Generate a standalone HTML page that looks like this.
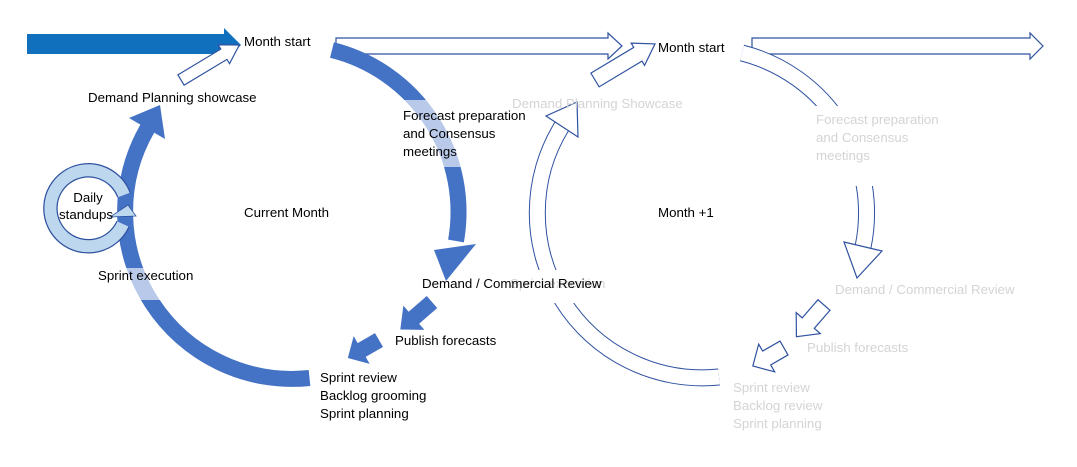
<!DOCTYPE html>
<html><head><meta charset="utf-8"><style>
html,body{margin:0;padding:0;background:#fff;}
svg{display:block;font-family:"Liberation Sans",sans-serif;font-size:13.3px;}
.g{fill:#d4d4d4}
</style></head><body>
<svg width="1077" height="467" viewBox="0 0 1077 467">
<polygon points="27,34 224,34 224,28 241,45 224,62 224,54 27,54" fill="#1170be"/>
<polygon points="336,38 608,38 608,33 622,46 608,59 608,54 336,54" fill="#fff" stroke="#2f52a0" stroke-width="1.2"/>
<polygon points="752,38 1030,38 1030,33 1043,46 1030,59 1030,54 752,54" fill="#fff" stroke="#2f52a0" stroke-width="1.2"/>

<path d="M332,50 A167,167 0 0 1 456,241" fill="none" stroke="#4472c4" stroke-width="16"/>
<polygon points="434,250 476,244 446,281" fill="#4472c4"/>
<path d="M309.5,378 A167,167 0 0 1 147.4,128.5" fill="none" stroke="#4472c4" stroke-width="16"/>
<polygon points="129,118 165,139 160,105" fill="#4472c4"/>
<rect x="398" y="100" width="75" height="67" fill="#fff" opacity="0.62"/>
<rect x="112" y="268" width="55" height="32" fill="#fff" opacity="0.62"/>

<path d="M124,195 A38,38 0 1 0 123,224" fill="none" stroke="#2f52a0" stroke-width="14.5"/>
<path d="M124,195 A38,38 0 1 0 123,224" fill="none" stroke="#bdd7ee" stroke-width="12"/>
<polygon points="110,217 136,216 128,205" fill="#bdd7ee" stroke="#2f52a0" stroke-width="0.8"/>

<g transform="translate(432,302) rotate(139)"><polygon points="0,-8 24,-8 24,-16 42,0 24,16 24,8 0,8" fill="#4472c4"/></g>
<g transform="translate(379,340) rotate(150)"><polygon points="0,-8 20,-8 20,-16 36,0 20,16 20,8 0,8" fill="#4472c4"/></g>

<g transform="translate(181,80) rotate(-31)"><polygon points="0,-6 50,-6 50,-11 68,0 50,11 50,6 0,6" fill="#fff" stroke="#2f52a0" stroke-width="1.2"/></g>
<g transform="translate(595,80) rotate(-31)"><polygon points="0,-8 50,-8 50,-13 70,0 50,13 50,8 0,8" fill="#fff" stroke="#2f52a0" stroke-width="1.2"/></g>

<path d="M742,53 A165,165 0 0 1 863,247" fill="none" stroke="#2f52a0" stroke-width="17"/>
<path d="M742,53 A165,165 0 0 1 863,247" fill="none" stroke="#fff" stroke-width="15"/>
<polygon points="844,242 882,251 857,278" fill="#fff" stroke="#2f52a0" stroke-width="1.2"/>
<path d="M719,377 A165,165 0 0 1 562,126" fill="none" stroke="#2f52a0" stroke-width="17"/>
<path d="M719,377 A165,165 0 0 1 562,126" fill="none" stroke="#fff" stroke-width="15"/>
<polygon points="546,116 578,137 577,102" fill="#fff" stroke="#2f52a0" stroke-width="1.2"/>
<rect x="800" y="106" width="85" height="80" fill="#fff"/>
<rect x="528" y="270" width="50" height="33" fill="#fff"/>
<g transform="translate(824,305) rotate(131)"><polygon points="0,-8 24,-8 24,-16 42,0 24,16 24,8 0,8" fill="#fff" stroke="#2f52a0" stroke-width="1.2"/></g>
<g transform="translate(784,348) rotate(150)"><polygon points="0,-8 20,-8 20,-16 36,0 20,16 20,8 0,8" fill="#fff" stroke="#2f52a0" stroke-width="1.2"/></g>

<text x="244" y="46">Month start</text>
<text x="88" y="102">Demand Planning showcase</text>
<text x="403" y="120">Forecast preparation</text>
<text x="403" y="138">and Consensus</text>
<text x="403" y="156">meetings</text>
<text x="244" y="217">Current Month</text>
<text x="88" y="202" text-anchor="middle">Daily</text>
<text x="86" y="219" text-anchor="middle">standups</text>
<text x="98" y="280">Sprint execution</text>
<text class="g" x="510" y="288">Sprint execution</text>
<text x="422" y="288">Demand / Commercial Review</text>
<text x="395" y="345">Publish forecasts</text>
<text x="320" y="382">Sprint review</text>
<text x="320" y="400">Backlog grooming</text>
<text x="320" y="418">Sprint planning</text>
<text x="658" y="52">Month start</text>
<text class="g" x="512" y="108">Demand Planning Showcase</text>
<text class="g" x="816" y="124">Forecast preparation</text>
<text class="g" x="816" y="142">and Consensus</text>
<text class="g" x="816" y="160">meetings</text>
<text x="658" y="217">Month +1</text>
<text class="g" x="835" y="294">Demand / Commercial Review</text>
<text class="g" x="807" y="352">Publish forecasts</text>
<text class="g" x="733" y="392">Sprint review</text>
<text class="g" x="733" y="410">Backlog review</text>
<text class="g" x="733" y="428">Sprint planning</text>
</svg>
</body></html>
